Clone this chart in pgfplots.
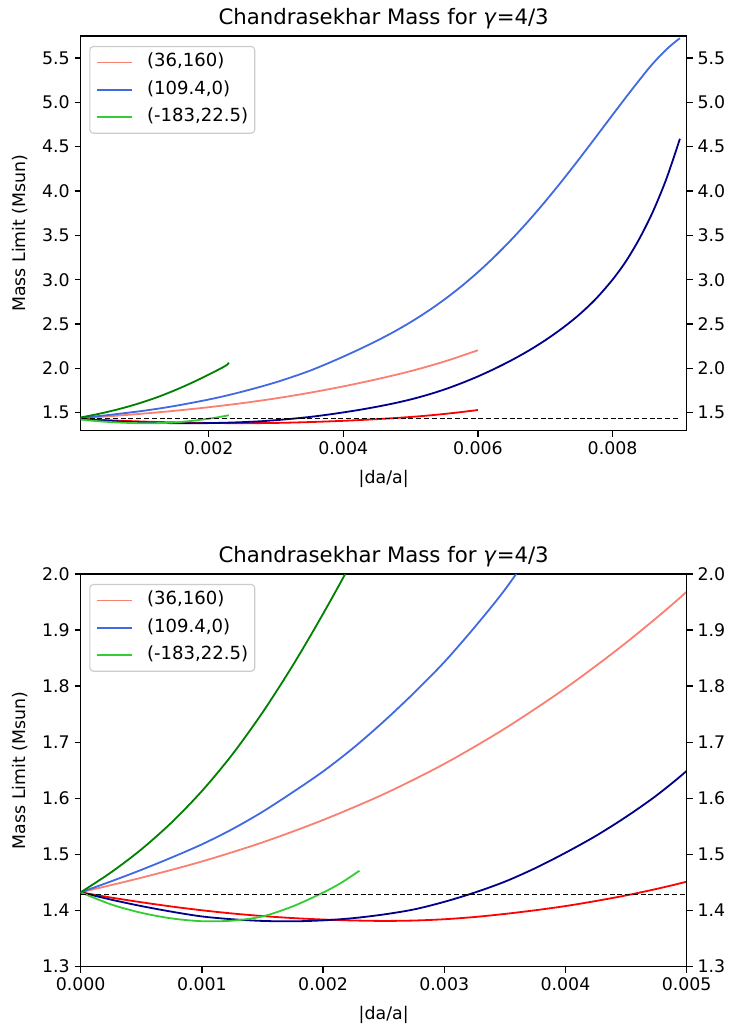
\documentclass[border=0pt]{standalone}
\usepackage{fontspec}
\setmainfont{DejaVu Sans}
\usepackage{pgfplots}
\usepackage{pgfplotstable}
\pgfplotsset{compat=1.18}

\definecolor{cSalmon}{RGB}{250,128,114}
\definecolor{cRed}{RGB}{255,0,0}
\definecolor{cRoyal}{RGB}{65,105,225}
\definecolor{cNavy}{RGB}{0,0,139}
\definecolor{cLime}{RGB}{50,205,50}
\definecolor{cDkGreen}{RGB}{0,128,0}

% (36,160) upper branch
\pgfplotstableread{
x y
0 1.4325
0.0005 1.4585
0.001 1.4875
0.0015 1.5215
0.002 1.5615
0.0025 1.6075
0.003 1.6615
0.0035 1.7245
0.004 1.7965
0.0045 1.8775
0.005 1.9685
0.0055 2.0765
0.006 2.2045
}\tSalmon
% (36,160) lower branch
\pgfplotstableread{
x y
0 1.4325
0.00025 1.4232
0.0005 1.4148
0.00075 1.4072
0.001 1.4005
0.00125 1.3948
0.0015 1.3902
0.00175 1.3866
0.002 1.3840
0.00225 1.3823
0.0025 1.3815
0.00275 1.3822
0.003 1.3845
0.00325 1.3885
0.0035 1.3940
0.00375 1.4005
0.004 1.4080
0.00425 1.4170
0.0045 1.4270
0.00475 1.4385
0.005 1.4515
0.00525 1.4670
0.0055 1.4855
0.00575 1.5065
0.006 1.5300
}\tRed
% (109.4,0) upper branch
\pgfplotstableread{
x y
0 1.4325
0.00025 1.452
0.0005 1.4725
0.00075 1.4945
0.001 1.518
0.00125 1.545
0.0015 1.576
0.00175 1.611
0.002 1.648
0.00225 1.690
0.0025 1.737
0.00275 1.788
0.003 1.843
0.00325 1.905
0.0035 1.972
0.00375 2.0495
0.004 2.132
0.00425 2.2193
0.0045 2.3115
0.00475 2.4113
0.005 2.521
0.00525 2.642
0.0055 2.7755
0.00575 2.9228
0.006 3.085
0.00625 3.2625
0.0065 3.455
0.00675 3.6621
0.007 3.883
0.00725 4.1159
0.0075 4.3588
0.00775 4.6081
0.008 4.86
0.00825 5.109
0.0085 5.350
0.0086 5.440
0.0087 5.522
0.0088 5.598
0.0089 5.665
0.009 5.725
}\tRoyal
% (109.4,0) lower branch
\pgfplotstableread{
x y
0 1.4325
0.00025 1.4195
0.0005 1.408
0.00075 1.398
0.001 1.3895
0.00125 1.3845
0.0015 1.3815
0.00175 1.3808
0.002 1.3825
0.00225 1.3865
0.0025 1.393
0.00275 1.402
0.003 1.4155
0.00325 1.432
0.0035 1.4515
0.00375 1.4755
0.004 1.503
0.00425 1.533
0.0045 1.567
0.00475 1.605
0.005 1.649
0.00525 1.701
0.0055 1.761
0.00575 1.831
0.006 1.909
0.00625 1.996
0.0065 2.092
0.00675 2.198
0.007 2.317
0.00725 2.451
0.0075 2.603
0.00775 2.783
0.008 3.001
0.0082 3.21
0.0084 3.465
0.0086 3.77
0.0088 4.14
0.009 4.59
}\tNavy
% (-183,22.5) lower branch
\pgfplotstableread{
x y
0 1.4325
0.00025 1.411
0.0005 1.396
0.00075 1.386
0.001 1.381
0.00125 1.382
0.0015 1.3895
0.00175 1.4075
0.002 1.432
0.00215 1.4495
0.0023 1.471
}\tLime
% (-183,22.5) upper branch
\pgfplotstableread{
x y
0 1.4325
0.00025 1.468
0.0005 1.509
0.00075 1.557
0.001 1.613
0.00125 1.678
0.0015 1.753
0.00175 1.837
0.002 1.929
0.00225 2.028
0.0023 2.065
}\tDkGreen

\newcommand{\basefont}{\fontsize{12.5}{15}\selectfont}

\pgfplotsset{
  every axis title shift=0pt,
  chandra/.style={
    width=436.3pt, scale only axis,
    axis line style={line width=1pt},
    tick style={line width=1pt, black},
    major tick length=4.4pt,
    tick align=outside,
    xtick pos=left, ytick pos=left,
    tick label style={font=\basefont},
    scaled ticks=false,
    xlabel={|da/a|}, ylabel={Mass Limit (Msun)},
    xlabel style={font=\basefont, at={(axis description cs:0.5,0)}, anchor=center, yshift=-34.8pt},
    ylabel style={font=\basefont, at={(axis description cs:-0.1002,0.5)}, anchor=center},
    title={Chandrasekhar Mass for \textit{γ}=4/3},
    title style={font=\fontsize{15.3}{18}\selectfont, at={(axis description cs:0.5,1)}, anchor=base, yshift=8pt},
    legend cell align=left,
    legend image code/.code={\draw[#1, line width=1.4pt] (0pt,0pt) -- (25pt,0pt);},
    legend style={at={(axis description cs:0.0142,0.9746)}, anchor=north west,
      draw=black!20, line width=0.8pt, rounded corners=2.5pt, fill=white, fill opacity=0.8,
      draw opacity=1, text opacity=1, font=\fontsize{13}{15}\selectfont,
      inner xsep=4.8pt, inner ysep=5.1pt, row sep=6.9pt, column sep=10pt,
      nodes={inner sep=0pt, text height=9.6pt, text depth=3.2pt}},
  },
  twin/.style={
    width=436.3pt, scale only axis,
    axis x line=none, axis y line*=right,
    axis line style={line width=1pt},
    tick style={line width=1pt, black},
    major tick length=4.4pt,
    tick align=outside,
    tick label style={font=\basefont},
    yticklabel pos=right,
  },
}

\newcommand{\allcurves}{%
  \addplot[cSalmon, line width=1.3pt, smooth] table {\tSalmon};
  \addlegendentry{(36,160)}
  \addplot[cRed, line width=1.3pt, smooth, forget plot] table {\tRed};
  \addplot[cRoyal, line width=1.3pt, smooth] table {\tRoyal};
  \addlegendentry{(109.4,0)}
  \addplot[cNavy, line width=1.3pt, smooth, forget plot] table {\tNavy};
  \addplot[cLime, line width=1.3pt, smooth] table {\tLime};
  \addlegendentry{(-183,22.5)}
  \addplot[cDkGreen, line width=1.3pt, smooth, forget plot] table {\tDkGreen};
  \addplot[black, line width=0.75pt, dash pattern=on 3.6pt off 2pt, forget plot] coordinates {(0,1.429) (0.009,1.429)};
}

\begin{document}
\begin{tikzpicture}
\useasboundingbox (-58.1pt,-44.9pt) rectangle (468.2pt,696.0pt);
% ---------- top panel ----------
\begin{axis}[chandra, at={(0pt,386.1pt)}, anchor=south west, height=284pt,
  xmin=0.0001, xmax=0.0091, ymin=1.3, ymax=5.75,
  xtick={0.002,0.004,0.006,0.008}, xticklabels={0.002,0.004,0.006,0.008},
  ytick={1.5,2.0,2.5,3.0,3.5,4.0,4.5,5.0,5.5},
  yticklabels={1.5,2.0,2.5,3.0,3.5,4.0,4.5,5.0,5.5}]
\allcurves
\end{axis}
\begin{axis}[twin, at={(0pt,386.1pt)}, anchor=south west, height=284pt,
  xmin=0.0001, xmax=0.0091, ymin=1.3, ymax=5.75,
  ytick={1.5,2.0,2.5,3.0,3.5,4.0,4.5,5.0,5.5},
  yticklabels={1.5,2.0,2.5,3.0,3.5,4.0,4.5,5.0,5.5}]
\end{axis}
% ---------- bottom panel ----------
\begin{axis}[chandra, at={(0pt,0pt)}, anchor=south west, height=282.7pt,
  xmin=0, xmax=0.005, ymin=1.3, ymax=2.0,
  xtick={0,0.001,0.002,0.003,0.004,0.005},
  xticklabels={0.000,0.001,0.002,0.003,0.004,0.005},
  ytick={1.3,1.4,1.5,1.6,1.7,1.8,1.9,2.0},
  yticklabels={1.3,1.4,1.5,1.6,1.7,1.8,1.9,2.0}]
\allcurves
\end{axis}
\begin{axis}[twin, at={(0pt,0pt)}, anchor=south west, height=282.7pt,
  xmin=0, xmax=0.005, ymin=1.3, ymax=2.0,
  ytick={1.3,1.4,1.5,1.6,1.7,1.8,1.9,2.0},
  yticklabels={1.3,1.4,1.5,1.6,1.7,1.8,1.9,2.0}]
\end{axis}
\end{tikzpicture}
\end{document}
